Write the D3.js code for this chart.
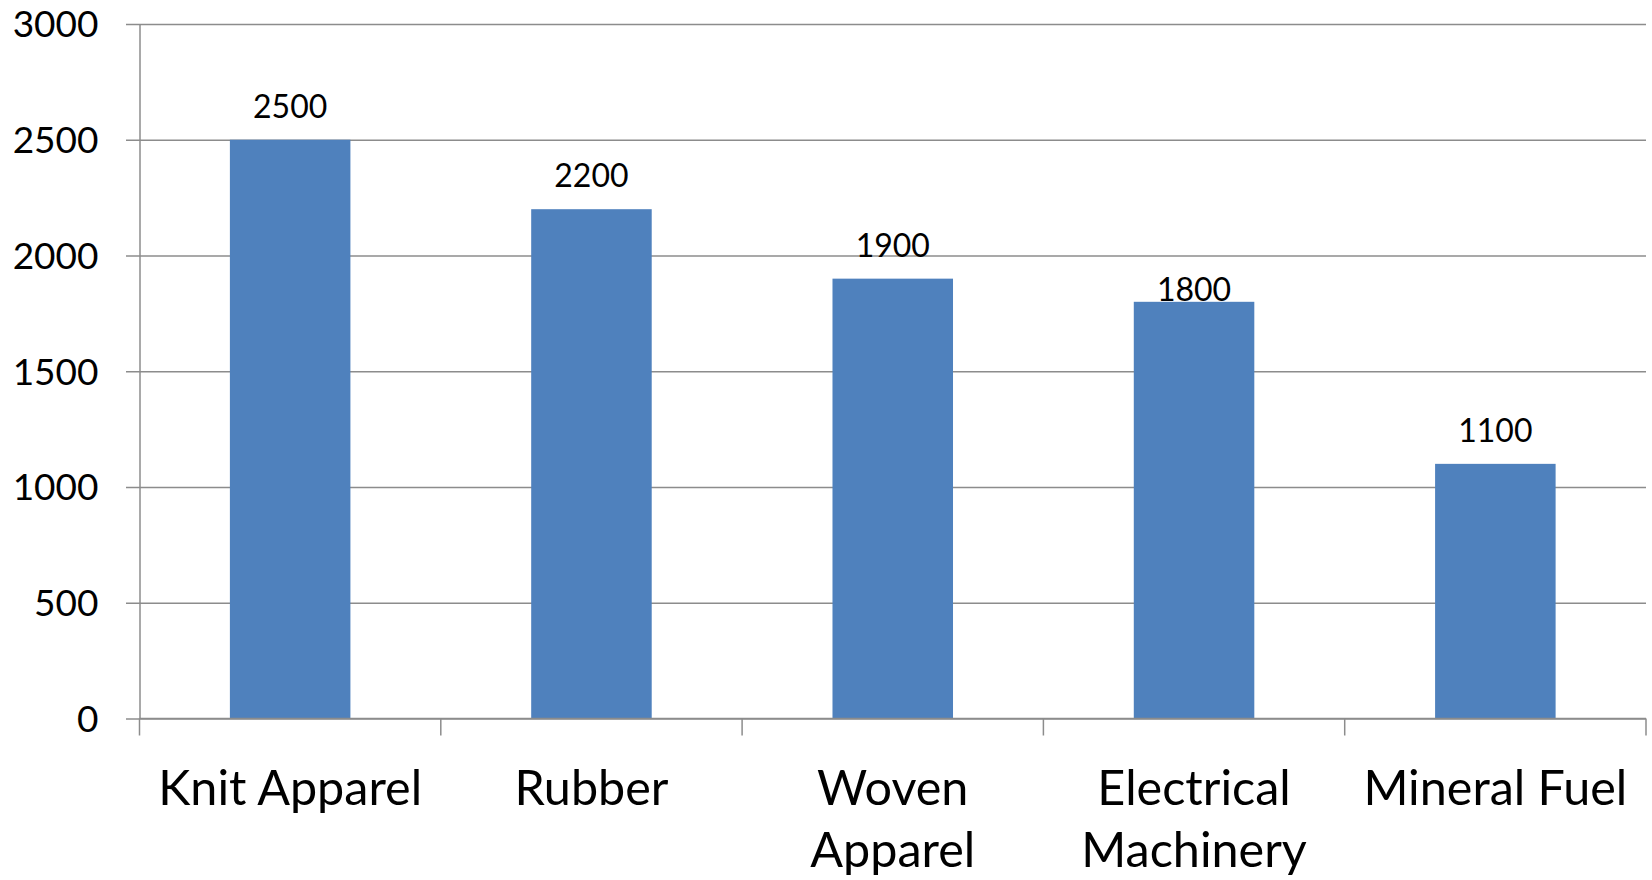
<!DOCTYPE html>
<html>
<head>
<meta charset="utf-8">
<script src="https://cdn.jsdelivr.net/npm/d3@7"></script>
<style>
  html, body { margin: 0; padding: 0; background: #fff; }
  svg { display: block; }
  text { font-family: Lato, "Open Sans", sans-serif; fill: #000; }
</style>
</head>
<body>
<svg id="chart" width="1652" height="880"></svg>
<script>
// Export value by product group
const categories = ["Knit Apparel", "Rubber", "Woven Apparel", "Electrical Machinery", "Mineral Fuel"];
const categoryLines = [["Knit Apparel"], ["Rubber"], ["Woven", "Apparel"], ["Electrical", "Machinery"], ["Mineral Fuel"]];
const values = [2500, 2200, 1900, 1800, 1100];
const yTicks = [0, 500, 1000, 1500, 2000, 2500, 3000];

const W = 1652, H = 880;
const margin = { left: 139.5, right: 6, top: 24, bottom: 161.5 };
const svg = d3.select("#chart");

const x = d3.scaleBand()
  .domain(categories)
  .range([margin.left, W - margin.right])
  .paddingInner(0.6)
  .paddingOuter(0.3);

const y = d3.scaleLinear()
  .domain([0, 3000])
  .range([H - margin.bottom, margin.top]);

const gridColor = "#8c8c8c";

// horizontal gridlines with short outward ticks on the value axis
const yAxis = d3.axisLeft(y)
  .tickValues(yTicks)
  .tickSize(-(W - margin.right - margin.left))
  .tickSizeOuter(0)
  .tickPadding(0)
  .tickFormat(() => "");
const gy = svg.append("g")
  .attr("transform", `translate(${margin.left},0)`)
  .call(yAxis);
gy.select(".domain").attr("stroke", gridColor).attr("stroke-width", 1.5);
gy.selectAll(".tick line").attr("stroke", gridColor).attr("stroke-width", 1.5).attr("x1", -13.5);

gy.selectAll(".tick")
  .append("text")
  .attr("x", -41)
  .attr("dy", "0.35em")
  .attr("text-anchor", "end")
  .style("font-size", "37px")
  .text(d => d);

// bars
svg.append("g")
  .selectAll("rect")
  .data(values)
  .join("rect")
  .attr("x", (d, i) => x(categories[i]))
  .attr("width", x.bandwidth())
  .attr("y", d => y(d))
  .attr("height", d => y(0) - y(d))
  .attr("fill", "#4f81bd");

// category axis: tick marks sit on band boundaries
const step = x.step();
const boundaries = d3.range(categories.length + 1).map(i => margin.left + i * step);
const baseY = y(0);
const gx = svg.append("g");
gx.append("line")
  .attr("x1", margin.left).attr("x2", W - margin.right)
  .attr("y1", baseY).attr("y2", baseY)
  .attr("stroke", gridColor).attr("stroke-width", 1.5);
gx.selectAll("line.tick")
  .data(boundaries)
  .join("line")
  .attr("class", "tick")
  .attr("x1", d => d).attr("x2", d => d)
  .attr("y1", baseY).attr("y2", baseY + 17)
  .attr("stroke", gridColor).attr("stroke-width", 1.5);

// category labels, wrapped over two lines where needed
const catLabel = gx.selectAll("text.cat")
  .data(categories)
  .join("text")
  .attr("class", "cat")
  .attr("text-anchor", "middle")
  .style("font-size", "48.5px")
  .attr("transform", d => `translate(${x(d) + x.bandwidth() / 2},${baseY + 86})`);
catLabel.selectAll("tspan")
  .data((d, i) => categoryLines[i])
  .join("tspan")
  .attr("x", 0)
  .attr("y", (d, j) => j * 62)
  .text(d => d);

// value labels above bars; one label sits on its bar top as the layout has no room
const labelLift = { "Electrical Machinery": 1 };
svg.append("g")
  .selectAll("text")
  .data(values)
  .join("text")
  .attr("text-anchor", "middle")
  .style("font-size", "32px")
  .attr("x", (d, i) => x(categories[i]) + x.bandwidth() / 2)
  .attr("y", (d, i) => y(d) - (labelLift[categories[i]] ?? 22))
  .text(d => d);
</script>
</body>
</html>
